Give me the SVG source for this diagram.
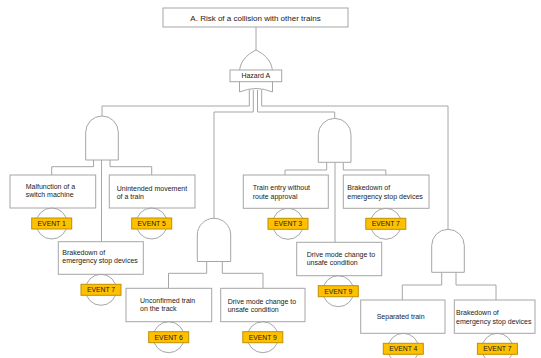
<svg xmlns="http://www.w3.org/2000/svg" width="541" height="358" viewBox="0 0 541 358">
<style>
.bg{fill:#ffffff}
.ln{fill:none;stroke:#a6a6a6;stroke-width:1}
.box{fill:#ffffff;stroke:#a6a6a6;stroke-width:1}
.gate{fill:#ffffff;stroke:#a6a6a6;stroke-width:1}
.circ{fill:none;stroke:#a6a6a6;stroke-width:1}
.ev{fill:#ffc000;stroke:#bf9000;stroke-width:1}
.t{font-family:"Liberation Sans",Arial,sans-serif;font-size:7px;fill:#1a1a1a}
.tc{font-family:"Liberation Sans",Arial,sans-serif;font-size:7px;fill:#1a1a1a;text-anchor:middle}
.tt{font-family:"Liberation Sans",Arial,sans-serif;font-size:8px;fill:#1a1a1a;text-anchor:middle}
.et{font-family:"Liberation Sans",Arial,sans-serif;font-size:6.8px;fill:#1a1a1a;text-anchor:middle}
</style>
<rect class="bg" x="0" y="0" width="541" height="358"/>
<g id="connectors">
  <path class="ln" d="M256 27 V50"/>
  <path class="ln" d="M249.3 90 V106 H102 V116"/>
  <path class="ln" d="M253.3 90 V112 H214 V218.3"/>
  <path class="ln" d="M257.5 90 V112 H334.7 V118.3"/>
  <path class="ln" d="M261.7 90 V106 H448 V229.3"/>
  <path class="ln" d="M93.5 160 V166.7 H51.7 V175"/>
  <path class="ln" d="M110 160 V166.7 H151.7 V175"/>
  <path class="ln" d="M101.5 160 V241.7"/>
  <path class="ln" d="M206.7 261.5 V273.3 H168.5 V288.3"/>
  <path class="ln" d="M222.3 261.5 V273.3 H263 V288.3"/>
  <path class="ln" d="M326.7 162.3 V170 H285 V175"/>
  <path class="ln" d="M343.3 162.3 V170 H385.8 V175"/>
  <path class="ln" d="M335 162.3 V242.3"/>
  <path class="ln" d="M441.7 272.3 V285 H402.3 V300"/>
  <path class="ln" d="M456 272.3 V285 H496 V300"/>
</g>
<g id="top-event">
  <rect class="box" x="163" y="8" width="185" height="19"/>
  <text class="tt" x="255.5" y="20.5">A. Risk of a collision with other trains</text>
</g>
<g id="hazard-a">
  <path class="gate" d="M239.5 92 V72 C239.8 62 246 55 256 50 C266 55 272.2 62 272.5 72 V92 Q256 85 239.5 92 Z"/>
  <rect class="box" x="230" y="70" width="51.7" height="11.7"/>
  <text class="tc" x="255.8" y="78.4">Hazard A</text>
</g>
<g id="gate-1">
  <path class="gate" d="M85.7 160 V132.3 A16.3 16.3 0 0 1 118.3 132.3 V160 Z"/>
</g>
<g id="gate-2">
  <path class="gate" d="M197.3 261.5 V235 A16.7 16.7 0 0 1 230.7 235 V261.5 Z"/>
</g>
<g id="gate-3">
  <path class="gate" d="M318.3 162.3 V134.7 A16.35 16.35 0 0 1 351 134.7 V162.3 Z"/>
</g>
<g id="gate-4">
  <path class="gate" d="M431.7 272.3 V245.6 A16.3 16.3 0 0 1 464.3 245.6 V272.3 Z"/>
</g>
<g id="malfunction">
  <rect class="box" x="10" y="175" width="85.7" height="33"/>
  <text class="t" x="25.7" y="188.5">Malfunction of a</text>
  <text class="t" x="25.7" y="197">switch machine</text>
</g>
<g id="unintended">
  <rect class="box" x="109.3" y="175" width="85.7" height="33"/>
  <text class="t" x="116.7" y="190.8">Unintended movement</text>
  <text class="t" x="116.7" y="199.2">of a train</text>
</g>
<g id="brakedown-1">
  <rect class="box" x="58.3" y="241.7" width="85" height="32.6"/>
  <text class="t" x="62.3" y="255.2">Brakedown of</text>
  <text class="t" x="62.3" y="263.4">emergency stop devices</text>
</g>
<g id="unconfirmed">
  <rect class="box" x="126" y="288.3" width="85.7" height="33.4"/>
  <text class="t" x="140" y="303.2">Unconfirmed train</text>
  <text class="t" x="140" y="311.4">on the track</text>
</g>
<g id="drive-mode-1">
  <rect class="box" x="220.7" y="288.3" width="84.3" height="33.4"/>
  <text class="t" x="227.7" y="303.5">Drive mode change to</text>
  <text class="t" x="227.7" y="311.8">unsafe condition</text>
</g>
<g id="train-entry">
  <rect class="box" x="243.3" y="175" width="85" height="33.3"/>
  <text class="t" x="252.7" y="190.2">Train entry without</text>
  <text class="t" x="252.7" y="198.5">route approval</text>
</g>
<g id="brakedown-2">
  <rect class="box" x="343.3" y="175" width="85.7" height="33.3"/>
  <text class="t" x="347.3" y="190.2">Brakedown of</text>
  <text class="t" x="347.3" y="198.5">emergency stop devices</text>
</g>
<g id="drive-mode-2">
  <rect class="box" x="296.7" y="242.3" width="85" height="33.4"/>
  <text class="t" x="306.7" y="256.8">Drive mode change to</text>
  <text class="t" x="306.7" y="265.2">unsafe condition</text>
</g>
<g id="separated">
  <rect class="box" x="360.7" y="300" width="84.3" height="33.3"/>
  <text class="t" x="376.7" y="319.2">Separated train</text>
</g>
<g id="brakedown-3">
  <rect class="box" x="454.3" y="300" width="80.7" height="33.3"/>
  <text class="t" x="456" y="315.2">Brakedown of</text>
  <text class="t" x="456" y="323.5">emergency stop devices</text>
</g>
<g id="event-1">
  <circle class="circ" cx="51.7" cy="223.5" r="15.5"/>
  <rect class="ev" x="31.7" y="218" width="40" height="11"/>
  <text class="et" x="51.7" y="226">EVENT 1</text>
</g>
<g id="event-5">
  <circle class="circ" cx="151.7" cy="223.5" r="15.5"/>
  <rect class="ev" x="131.7" y="218" width="40" height="11"/>
  <text class="et" x="151.7" y="226">EVENT 5</text>
</g>
<g id="event-7a">
  <circle class="circ" cx="101" cy="289.8" r="15.5"/>
  <rect class="ev" x="81" y="284.3" width="40" height="11"/>
  <text class="et" x="101" y="292.3">EVENT 7</text>
</g>
<g id="event-6">
  <circle class="circ" cx="168.7" cy="337.2" r="15.5"/>
  <rect class="ev" x="148.7" y="331.7" width="40" height="11"/>
  <text class="et" x="168.7" y="339.7">EVENT 6</text>
</g>
<g id="event-9a">
  <circle class="circ" cx="262.8" cy="337.2" r="15.5"/>
  <rect class="ev" x="242.8" y="331.7" width="40" height="11"/>
  <text class="et" x="262.8" y="339.7">EVENT 9</text>
</g>
<g id="event-3">
  <circle class="circ" cx="288" cy="223.8" r="15.5"/>
  <rect class="ev" x="268" y="218.3" width="40" height="11"/>
  <text class="et" x="288" y="226.3">EVENT 3</text>
</g>
<g id="event-7b">
  <circle class="circ" cx="385.8" cy="223.8" r="15.5"/>
  <rect class="ev" x="365.8" y="218.3" width="40" height="11"/>
  <text class="et" x="385.8" y="226.3">EVENT 7</text>
</g>
<g id="event-9b">
  <circle class="circ" cx="338.3" cy="291.2" r="15.5"/>
  <rect class="ev" x="318.3" y="285.7" width="40" height="11"/>
  <text class="et" x="338.3" y="293.7">EVENT 9</text>
</g>
<g id="event-4">
  <circle class="circ" cx="403.3" cy="348.8" r="15.5"/>
  <rect class="ev" x="383.3" y="343.3" width="40" height="11"/>
  <text class="et" x="403.3" y="351.3">EVENT 4</text>
</g>
<g id="event-7c">
  <circle class="circ" cx="497.4" cy="348.8" r="15.5"/>
  <rect class="ev" x="477.4" y="343.3" width="40" height="11"/>
  <text class="et" x="497.4" y="351.3">EVENT 7</text>
</g>
</svg>
